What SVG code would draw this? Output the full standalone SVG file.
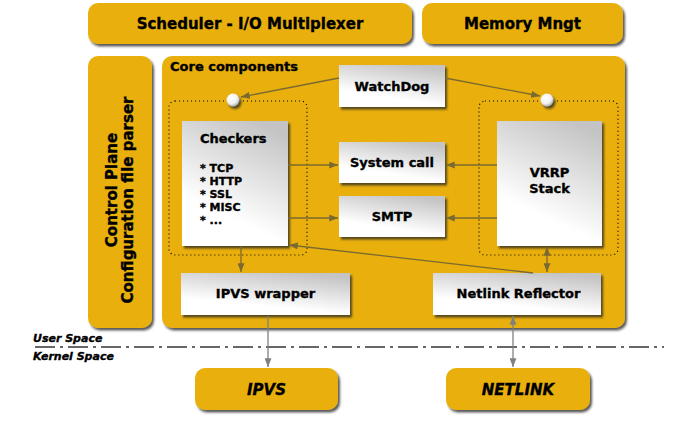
<svg xmlns="http://www.w3.org/2000/svg" width="689" height="443" viewBox="0 0 689 443">
<style>
  .y { fill: #E9B010; filter: url(#sh); }
  .w { fill: url(#wg); filter: url(#sh); }
  .t { font-family: "DejaVu Sans", Verdana, sans-serif; font-weight: bold; fill: #000; stroke: #000; stroke-width: 0.35; }
  .h { font-size: 15px; text-anchor: middle; }
  .b { font-size: 13px; text-anchor: middle; }
  .s { font-size: 11px; }
  .i { font-style: italic; }
  .dot { fill: none; stroke: #000; stroke-width: 1.2; stroke-dasharray: 1 3; }
  .c { stroke: #7A6A30; stroke-width: 1.3; fill: none; }
  .g { stroke: #808080; stroke-width: 1.3; fill: none; }
</style>
<defs>
  <filter id="sh" x="-10%" y="-10%" width="130%" height="140%">
    <feDropShadow dx="2" dy="2.5" stdDeviation="1.2" flood-color="#222" flood-opacity="0.75"/>
  </filter>
  <linearGradient id="wg" x1="0.7" y1="0" x2="0.3" y2="1">
    <stop offset="0" stop-color="#C4C4C4"/>
    <stop offset="0.75" stop-color="#FFFFFF"/>
    <stop offset="1" stop-color="#FFFFFF"/>
  </linearGradient>
  <radialGradient id="cg" cx="0.4" cy="0.35" r="0.7">
    <stop offset="0" stop-color="#FFFFFF"/>
    <stop offset="0.6" stop-color="#F2F2F2"/>
    <stop offset="1" stop-color="#A0A0A0"/>
  </radialGradient>
  <marker id="a" viewBox="0 0 10 8" refX="10" refY="4" markerWidth="9" markerHeight="7" markerUnits="userSpaceOnUse" orient="auto-start-reverse">
    <path d="M0,0 L10,4 L0,8 z" fill="#7A6A30"/>
  </marker>
  <marker id="ag" viewBox="0 0 10 8" refX="10" refY="4" markerWidth="9" markerHeight="7" markerUnits="userSpaceOnUse" orient="auto-start-reverse">
    <path d="M0,0 L10,4 L0,8 z" fill="#808080"/>
  </marker>
</defs>

<g id="scheduler">
  <rect class="y" x="88" y="3" width="324" height="41" rx="10"/>
  <text class="t h" x="250" y="29">Scheduler - I/O Multiplexer</text>
</g>
<g id="memory">
  <rect class="y" x="422" y="3" width="201" height="41" rx="10"/>
  <text class="t h" x="522.5" y="29">Memory Mngt</text>
</g>
<g id="control-plane">
  <rect class="y" x="88" y="56" width="64" height="272" rx="10"/>
  <text class="t h" transform="translate(117,190) rotate(-90)">Control Plane</text>
  <text class="t h" transform="translate(133,200) rotate(-90)">Configuration file parser</text>
</g>
<g id="core">
  <rect class="y" x="162" y="56" width="463" height="272" rx="10"/>
  <text class="t" font-size="13" x="170" y="71">Core components</text>
  <rect class="dot" x="169" y="101" width="138" height="154" rx="6"/>
  <rect class="dot" x="479" y="101" width="139" height="154" rx="6"/>
</g>
<g id="circle-left">
  <circle cx="233" cy="100" r="6.5" fill="url(#cg)" filter="url(#sh)"/>
</g>
<g id="circle-right">
  <circle cx="547" cy="100" r="6.5" fill="url(#cg)" filter="url(#sh)"/>
</g>
<g id="watchdog">
  <rect class="w" x="339" y="65" width="106" height="42"/>
  <text class="t b" x="392" y="91">WatchDog</text>
</g>
<g id="checkers">
  <rect class="w" x="182" y="121" width="106" height="125"/>
  <text class="t" font-size="13" x="200" y="143">Checkers</text>
  <text class="t s" x="200" y="172" xml:space="preserve">* TCP</text>
  <text class="t s" x="200" y="185" xml:space="preserve">* HTTP</text>
  <text class="t s" x="200" y="198" xml:space="preserve">* SSL</text>
  <text class="t s" x="200" y="211" xml:space="preserve">* MISC</text>
  <text class="t s" x="200" y="224" xml:space="preserve">* ...</text>
</g>
<g id="system-call">
  <rect class="w" x="339" y="142" width="106" height="41"/>
  <text class="t b" x="392" y="167">System call</text>
</g>
<g id="smtp">
  <rect class="w" x="339" y="196" width="106" height="41"/>
  <text class="t b" x="392" y="221">SMTP</text>
</g>
<g id="vrrp">
  <rect class="w" x="497" y="121" width="105" height="125"/>
  <text class="t b" font-size="13.5" x="549.5" y="177">VRRP</text>
  <text class="t b" font-size="13.5" x="549.5" y="193">Stack</text>
</g>
<g id="ipvs-wrapper">
  <rect class="w" x="181" y="273" width="169" height="42"/>
  <text class="t b" x="265.5" y="298">IPVS wrapper</text>
</g>
<g id="netlink-reflector">
  <rect class="w" x="433" y="273" width="168" height="42"/>
  <text class="t b" x="518.5" y="298">Netlink Reflector</text>
</g>
<g id="ipvs">
  <rect class="y" x="195" y="368" width="143" height="42" rx="10"/>
  <text class="t h i" font-size="15.5" x="266.5" y="395">IPVS</text>
</g>
<g id="netlink">
  <rect class="y" x="446" y="368" width="144" height="42" rx="10"/>
  <text class="t h i" font-size="15.5" x="518" y="395">NETLINK</text>
</g>

<g id="space-labels">
  <text class="t s i" x="33" y="342">User Space</text>
  <text class="t s i" x="33" y="360">Kernel Space</text>
  <line x1="35" y1="347" x2="664" y2="347" stroke="#666" stroke-width="2" stroke-dasharray="20 5 3 5"/>
</g>

<g id="connectors">
  <line class="c" x1="339" y1="78" x2="241" y2="97" marker-end="url(#a)"/>
  <line class="c" x1="445" y1="78" x2="540" y2="96" marker-end="url(#a)"/>
  <line class="c" x1="288" y1="165" x2="338" y2="165" marker-end="url(#a)"/>
  <line class="c" x1="288" y1="218" x2="338" y2="218" marker-end="url(#a)"/>
  <line class="c" x1="497" y1="165" x2="446" y2="165" marker-end="url(#a)"/>
  <line class="c" x1="497" y1="218" x2="446" y2="218" marker-end="url(#a)"/>
  <line class="c" x1="533" y1="273" x2="289" y2="245" marker-end="url(#a)"/>
  <line class="c" x1="241" y1="246" x2="241" y2="272" marker-end="url(#a)"/>
  <line class="c" x1="547" y1="247" x2="547" y2="272" marker-start="url(#a)" marker-end="url(#a)"/>
  <line class="g" x1="268" y1="316" x2="268" y2="367" marker-end="url(#ag)"/>
  <line class="g" x1="513" y1="316" x2="513" y2="367" marker-start="url(#ag)" marker-end="url(#ag)"/>
</g>
</svg>
